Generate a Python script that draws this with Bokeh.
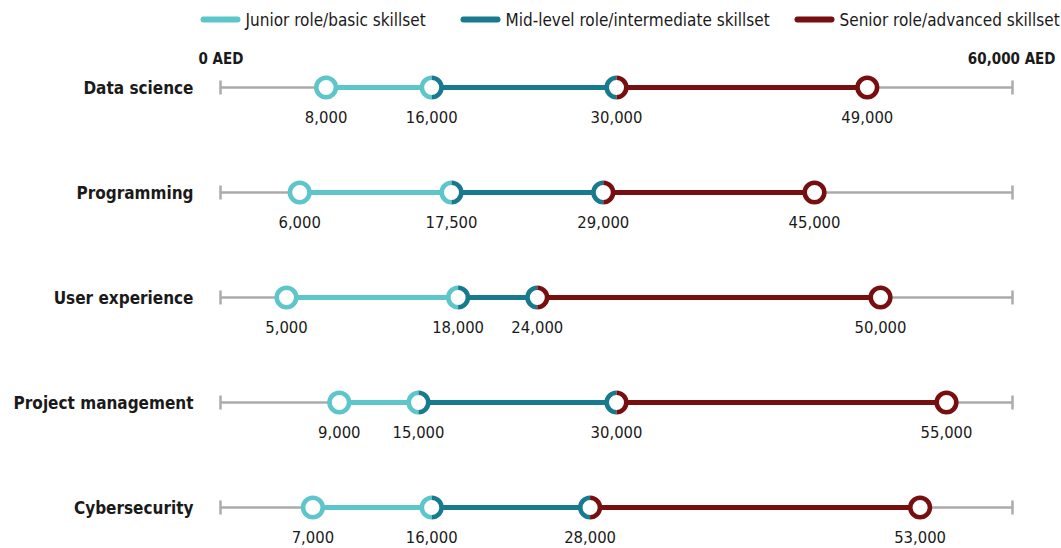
import math
from bokeh.plotting import figure
from bokeh.models import Range1d
from bokeh.core.properties import value
from bokeh.embed import file_html
from bokeh.resources import INLINE

# Monthly salary ranges (AED) by skill area
categories = ["Data science", "Programming", "User experience",
              "Project management", "Cybersecurity"]
junior = [8000, 6000, 5000, 9000, 7000]
mid = [16000, 17500, 18000, 15000, 16000]
senior = [30000, 29000, 24000, 30000, 28000]
top = [49000, 45000, 50000, 55000, 53000]
scale_min, scale_max = 0, 60000
legend_labels = ["Junior role/basic skillset",
                 "Mid-level role/intermediate skillset",
                 "Senior role/advanced skillset"]

C_JUN = "#5cc6ca"
C_MID = "#187a8e"
C_SEN = "#770f10"
C_GREY = "#ababab"
C_TEXT = "#1a1a1a"

FONT = "'DejaVu Sans Condensed', sans-serif"

W, H = 1061, 548
X0_PX, X1_PX = 220, 1012
ppu = (X1_PX - X0_PX) / (scale_max - scale_min)
x_start = scale_min - X0_PX / ppu
x_end = x_start + W / ppu


def px(xpix):
    """Horizontal pixel position expressed in AED units."""
    return x_start + xpix / ppu


p = figure(width=W, height=H, output_backend="svg", toolbar_location=None,
           x_range=Range1d(x_start, x_end), y_range=Range1d(H, 0),
           min_border=0)
p.axis.visible = False
p.grid.visible = False
p.outline_line_color = None
p.background_fill_color = "white"
p.border_fill_color = "white"

rows = [87 + 105 * i for i in range(len(categories))]
n = len(categories)

# base scale line with end caps
p.segment([scale_min] * n, rows, [scale_max] * n, rows,
          line_color=C_GREY, line_width=2.5)
for xv in (scale_min, scale_max):
    p.segment([xv] * n, [r - 7 for r in rows], [xv] * n, [r + 7 for r in rows],
              line_color=C_GREY, line_width=2.5)

# coloured salary bands
p.segment(junior, rows, mid, rows, line_color=C_JUN, line_width=5)
p.segment(mid, rows, senior, rows, line_color=C_MID, line_width=5)
p.segment(senior, rows, top, rows, line_color=C_SEN, line_width=5)

# markers
R = 9.8
LW = 4.6
allx = junior + mid + senior + top
ally = rows * 4
p.scatter(allx, ally, size=2 * R, fill_color="white", line_color=None)
p.scatter(junior, rows, size=2 * R, fill_color="white",
          line_color=C_JUN, line_width=LW)
p.scatter(top, rows, size=2 * R, fill_color="white",
          line_color=C_SEN, line_width=LW)


def half_rings(xs, left_color, right_color):
    p.arc(xs, rows, radius=R, radius_units="screen",
          start_angle=math.pi / 2, end_angle=3 * math.pi / 2,
          line_color=left_color, line_width=LW)
    p.arc(xs, rows, radius=R, radius_units="screen",
          start_angle=-math.pi / 2, end_angle=math.pi / 2,
          line_color=right_color, line_width=LW)


half_rings(mid, C_JUN, C_MID)
half_rings(senior, C_MID, C_SEN)

# value labels under each marker
p.text(allx, ally, text=[f"{v:,}" for v in allx], y_offset=29,
       text_align="center", text_baseline="middle", text_color=C_TEXT,
       text_font=value(FONT), text_font_size="16.5px")

# category labels
p.text([px(193)] * n, rows, text=categories, text_align="right",
       text_baseline="middle", text_color=C_TEXT, text_font=value(FONT),
       text_font_style="bold", text_font_size="17px")

# scale end labels
p.text([scale_min], [58], text=[f"{scale_min:,} AED"], x_offset=-22,
       text_align="left", text_baseline="middle", text_color=C_TEXT,
       text_font=value(FONT), text_font_style="bold", text_font_size="15px")
p.text([scale_max], [58], text=[f"{scale_max:,} AED"], x_offset=43,
       text_align="right", text_baseline="middle", text_color=C_TEXT,
       text_font=value(FONT), text_font_style="bold", text_font_size="15px")

# legend
leg_x = [203, 463, 797]
leg_colors = [C_JUN, C_MID, C_SEN]
for lx, lc, lt in zip(leg_x, leg_colors, legend_labels):
    p.segment([px(lx)], [19], [px(lx + 34)], [19], line_color=lc,
              line_width=6, line_cap="round")
    p.text([px(lx + 42)], [19], text=[lt], text_align="left",
           text_baseline="middle", text_color=C_TEXT, text_font=value(FONT),
           text_font_size="17px")

open("out.html", "w").write(file_html(p, INLINE))
